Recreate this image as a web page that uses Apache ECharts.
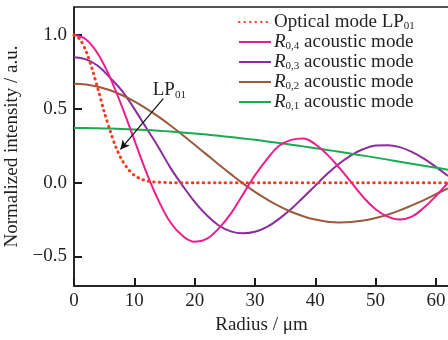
<!DOCTYPE html>
<html><head><meta charset="utf-8">
<script src="https://cdn.jsdelivr.net/npm/echarts@6/dist/echarts.min.js"></script>
<style>html,body{margin:0;padding:0;background:#fff}#c{width:448px;height:340px}</style>
</head><body><div id="c"></div>
<script>
// Radius sample points (µm)
const radius = [0,2,4,6,8,10,12,14,16,18,20,22,24,26,28,30,32,34,36,38,40,42,44,46,48,50,52,54,56,58,60,62];
const opticalRadius = [0,1,2,3,4,5,6,7,8,9,10,11,12,13,14,16,18,20,24,28,32,36,40,44,48,52,56,60,62];
const opticalLP01 = [1.0,0.97,0.89,0.77,0.63,0.48,0.35,0.235,0.15,0.09,0.05,0.027,0.013,0.006,0.003,0,0,0,0,0,0,0,0,0,0,0,0,0,0];
const r04 = [1.0,0.97,0.87,0.71,0.51,0.29,0.07,-0.12,-0.27,-0.36,-0.40,-0.38,-0.31,-0.21,-0.08,0.05,0.16,0.25,0.29,0.30,0.26,0.19,0.10,0.00,-0.10,-0.18,-0.23,-0.25,-0.23,-0.17,-0.09,0.00];
const r03 = [0.85,0.835,0.79,0.71,0.62,0.50,0.37,0.24,0.10,-0.02,-0.13,-0.22,-0.29,-0.33,-0.343,-0.333,-0.30,-0.245,-0.178,-0.10,-0.02,0.06,0.13,0.187,0.228,0.251,0.254,0.241,0.209,0.163,0.107,0.045];
const r02 = [0.67,0.665,0.65,0.626,0.592,0.551,0.502,0.447,0.387,0.323,0.257,0.19,0.123,0.058,-0.005,-0.062,-0.113,-0.159,-0.197,-0.227,-0.25,-0.265,-0.27,-0.267,-0.257,-0.24,-0.217,-0.188,-0.154,-0.118,-0.078,-0.038];
const r01 = [0.37,0.3696,0.3685,0.3666,0.364,0.3607,0.3566,0.3518,0.3463,0.3401,0.3333,0.3259,0.3178,0.3091,0.2998,0.29,0.2796,0.2688,0.2575,0.2458,0.2338,0.2215,0.209,0.1962,0.1832,0.1696,0.156,0.1423,0.1288,0.115,0.1014,0.0877];
const xTicks = [0,10,20,30,40,50,60];
const yTicks = [-0.5,0,0.5,1.0];
const legendNames = ['Optical mode LP01','R0,4 acoustic mode','R0,3 acoustic mode','R0,2 acoustic mode','R0,1 acoustic mode'];
const arrowStart = [14.8, 0.57];
const arrowEnd = [7.7, 0.225];
const labelPos = [15.8, 0.625];

const FONT = "'Liberation Serif','Times New Roman',serif";
const TXT = '#231f20';
const AX = '#1a1a1a';
const pair = (xs, ys) => xs.map((x, i) => [x, ys[i]]);

const legendFmt = {
  'Optical mode LP01': 'Optical mode LP{s|01}',
  'R0,4 acoustic mode': '{i|R}{s|0,4} acoustic mode',
  'R0,3 acoustic mode': '{i|R}{s|0,3} acoustic mode',
  'R0,2 acoustic mode': '{i|R}{s|0,2} acoustic mode',
  'R0,1 acoustic mode': '{i|R}{s|0,1} acoustic mode'
};

const chart = echarts.init(document.getElementById('c'), null, {renderer: 'canvas'});
chart.setOption({
  animation: false,
  backgroundColor: '#fff',
  grid: {left: 74, right: -1, top: 7, bottom: 54, containLabel: false, outerBoundsMode: 'none',
    show: true, borderColor: AX, borderWidth: 1.5, backgroundColor: 'transparent'},
  legend: {
    orient: 'vertical', left: 238, top: 12, padding: 0, itemGap: 0,
    itemWidth: 32, itemHeight: 20,
    itemStyle: {opacity: 0},
    data: legendNames,
    formatter: n => legendFmt[n],
    textStyle: {
      fontFamily: FONT, fontSize: 19, color: TXT, lineHeight: 20, padding: [0,0,0,-2],
      rich: {
        i: {fontFamily: FONT, fontSize: 19, fontStyle: 'italic', color: TXT, lineHeight: 20},
        s: {fontFamily: FONT, fontSize: 11, color: TXT, verticalAlign: 'bottom', lineHeight: 11}
      }
    }
  },
  xAxis: {
    type: 'value', min: 0, max: 62.17,
    axisLine: {show: true, onZero: false, lineStyle: {color: AX, width: 1.5}},
    splitLine: {show: false},
    axisTick: {show: true, inside: true, length: 8, customValues: xTicks, lineStyle: {color: AX, width: 2}},
    axisLabel: {customValues: xTicks, margin: 6, fontFamily: FONT, fontSize: 19, color: TXT},
    name: 'Radius / μm', nameLocation: 'middle', nameGap: 21,
    nameTextStyle: {fontFamily: FONT, fontSize: 19, color: TXT}
  },
  yAxis: {
    type: 'value', min: -0.7, max: 1.19,
    axisLine: {show: true, onZero: false, lineStyle: {color: AX, width: 1.5}},
    splitLine: {show: false},
    axisTick: {show: true, inside: true, length: 8, customValues: yTicks, lineStyle: {color: AX, width: 2}},
    axisLabel: {customValues: yTicks, margin: 7, fontFamily: FONT, fontSize: 19, color: TXT,
      formatter: v => (v < 0 ? '\u2212' : '') + Math.abs(v).toFixed(1)},
    name: 'Normalized intensity / a.u.', nameLocation: 'middle', nameGap: 39,
    nameTextStyle: {fontFamily: FONT, fontSize: 19, color: TXT}
  },
  series: [
    {name: legendNames[0], type: 'line', data: pair(opticalRadius, opticalLP01), smooth: 0.3, symbol: 'none', z: 5,
      lineStyle: {color: '#f23b22', width: 3, type: [0.5, 5], cap: 'round'}, itemStyle: {color: '#f23b22'},
      markLine: {silent: true, symbol: ['none', 'arrow'], symbolSize: [7, 9], label: {show: false},
        lineStyle: {color: '#111', width: 1.2, type: 'solid', cap: 'butt'},
        data: [[{coord: arrowStart}, {coord: arrowEnd}]]},
      markPoint: {silent: true, symbol: 'rect', symbolSize: 1, itemStyle: {color: 'rgba(0,0,0,0)'},
        label: {show: true, position: 'inside', formatter: '{a|LP}{b|01}',
          rich: {a: {fontFamily: FONT, fontSize: 19, color: TXT, lineHeight: 20},
                 b: {fontFamily: FONT, fontSize: 11, color: TXT, verticalAlign: 'bottom', lineHeight: 11}}},
        data: [{coord: labelPos}]}
    },
    {name: legendNames[1], type: 'line', data: pair(radius, r04), smooth: 0.4, symbol: 'none', z: 4,
      lineStyle: {color: '#ec1e8e', width: 2}, itemStyle: {color: '#ec1e8e'}},
    {name: legendNames[2], type: 'line', data: pair(radius, r03), smooth: 0.4, symbol: 'none', z: 3,
      lineStyle: {color: '#8a2c9c', width: 2}, itemStyle: {color: '#8a2c9c'}},
    {name: legendNames[3], type: 'line', data: pair(radius, r02), smooth: 0.4, symbol: 'none', z: 3,
      lineStyle: {color: '#9c5a3c', width: 2}, itemStyle: {color: '#9c5a3c'}},
    {name: legendNames[4], type: 'line', data: pair(radius, r01), smooth: 0.4, symbol: 'none', z: 3,
      lineStyle: {color: '#1aaa50', width: 2}, itemStyle: {color: '#1aaa50'}}
  ]
});
</script>
</body></html>
